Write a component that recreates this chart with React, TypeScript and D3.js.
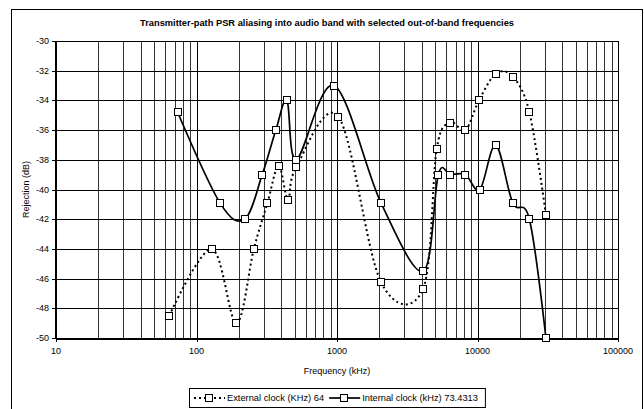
import React, { useEffect, useRef } from 'react';
import * as d3 from 'd3';

const width = 644;
const height = 409;

// plot area edges, in px
const plot = { left: 56, right: 618, top: 41, bottom: 338 };

const title = 'Transmitter-path PSR aliasing into audio band with selected out-of-band frequencies';
const xTitle = 'Frequency (kHz)';
const yTitle = 'Rejection (dB)';

const xTicks = [10, 100, 1000, 10000, 100000];
const yTicks = [-30, -32, -34, -36, -38, -40, -42, -44, -46, -48, -50];

const extName = 'External clock (KHz) 64';
const extFreq = [64, 128, 192, 256, 320, 384, 448, 512, 1024, 2048, 4096, 5120, 6400, 8192, 10240, 13500, 17800, 23400, 30700];
const extVal = [-48.5, -44, -49, -44, -40.9, -38.4, -40.7, -38.5, -35.1, -46.2, -46.7, -37.3, -35.5, -36, -34, -32.2, -32.4, -34.8, -41.7];

const intName = 'Internal clock (kHz) 73.4313';
const intFreq = [73.4, 146.9, 220.3, 293.7, 367.2, 440.6, 514, 955, 2056, 4112, 5260, 6400, 8200, 10400, 13500, 17800, 23400, 30700];
const intVal = [-34.8, -40.9, -42, -39, -36, -34, -38, -33, -40.9, -45.5, -39, -39, -39, -40, -37, -40.9, -42, -50];

const font = 'Liberation Sans, Arial, sans-serif';

type Pt = [number, number];

export default function App(): JSX.Element {
  const container = useRef<SVGSVGElement>(null);

  useEffect(() => {
    const svg = d3.select(container.current);
    svg.selectAll('*').remove();

    svg.append('rect').attr('width', width).attr('height', height).attr('fill', '#fff');
    // outer chart frame (bottom runs off the picture)
    svg
      .append('rect')
      .attr('x', 11.5)
      .attr('y', 9.5)
      .attr('width', 631)
      .attr('height', 420)
      .attr('fill', 'none')
      .attr('stroke', '#000');

    const x = d3.scaleLog().domain([10, 100000]).range([plot.left, plot.right]);
    const y = d3.scaleLinear().domain([-50, -30]).range([plot.bottom, plot.top]);

    const grid = svg.append('g').attr('shape-rendering', 'crispEdges');
    // vertical grid, decades + 2..9
    const vLines: number[] = [];
    for (let d = 10; d < 100000; d *= 10) {
      for (let k = 1; k < 10; k++) vLines.push(d * k);
    }
    vLines.push(100000);
    grid
      .selectAll('line.v')
      .data(vLines)
      .enter()
      .append('line')
      .attr('x1', (d) => Math.round(x(d)) + 0.5)
      .attr('x2', (d) => Math.round(x(d)) + 0.5)
      .attr('y1', plot.top)
      .attr('y2', plot.bottom)
      .attr('stroke', (d) => (xTicks.includes(d) ? '#000' : '#333'))
      .attr('stroke-width', 1);
    grid
      .selectAll('line.h')
      .data(yTicks)
      .enter()
      .append('line')
      .attr('x1', plot.left)
      .attr('x2', plot.right)
      .attr('y1', (d) => Math.round(y(d)) + 0.5)
      .attr('y2', (d) => Math.round(y(d)) + 0.5)
      .attr('stroke', '#000');

    // axes
    grid
      .append('line')
      .attr('x1', plot.left)
      .attr('x2', plot.left)
      .attr('y1', plot.top)
      .attr('y2', plot.bottom + 1)
      .attr('stroke', '#000')
      .attr('stroke-width', 2);
    grid
      .append('line')
      .attr('x1', plot.left)
      .attr('x2', plot.right + 1)
      .attr('y1', plot.bottom + 0.5)
      .attr('y2', plot.bottom + 0.5)
      .attr('stroke', '#000')
      .attr('stroke-width', 2);
    grid
      .selectAll('line.yt')
      .data(yTicks)
      .enter()
      .append('line')
      .attr('x1', plot.left - 4)
      .attr('x2', plot.left)
      .attr('y1', (d) => Math.round(y(d)) + 0.5)
      .attr('y2', (d) => Math.round(y(d)) + 0.5)
      .attr('stroke', '#000');
    grid
      .selectAll('line.xt')
      .data(xTicks)
      .enter()
      .append('line')
      .attr('x1', (d) => Math.round(x(d)) + 0.5)
      .attr('x2', (d) => Math.round(x(d)) + 0.5)
      .attr('y1', plot.bottom)
      .attr('y2', plot.bottom + 4)
      .attr('stroke', '#000');

    // tick labels
    svg
      .selectAll('text.yl')
      .data(yTicks)
      .enter()
      .append('text')
      .attr('x', plot.left - 7)
      .attr('y', (d) => y(d) + 3)
      .attr('text-anchor', 'end')
      .attr('font-family', font)
      .attr('font-size', 9)
      .text((d) => d);
    svg
      .selectAll('text.xl')
      .data(xTicks)
      .enter()
      .append('text')
      .attr('x', (d) => x(d))
      .attr('y', 354)
      .attr('text-anchor', 'middle')
      .attr('font-family', font)
      .attr('font-size', 9)
      .text((d) => d);

    const cx = (plot.left + plot.right) / 2;
    svg
      .append('text')
      .attr('x', cx - 10)
      .attr('y', 26)
      .attr('text-anchor', 'middle')
      .attr('font-family', font)
      .attr('font-size', 9.3)
      .attr('font-weight', 'bold')
      .text(title);
    svg
      .append('text')
      .attr('x', cx)
      .attr('y', 374)
      .attr('text-anchor', 'middle')
      .attr('font-family', font)
      .attr('font-size', 9)
      .text(xTitle);
    svg
      .append('text')
      .attr('transform', `translate(29,${(plot.top + plot.bottom) / 2}) rotate(-90)`)
      .attr('text-anchor', 'middle')
      .attr('font-family', font)
      .attr('font-size', 9)
      .text(yTitle);

    // series, smoothed like the spreadsheet lines
    const line = d3
      .line<Pt>()
      .x((d) => x(d[0]))
      .y((d) => y(d[1]))
      .curve(d3.curveCardinal.tension(0));

    const series = [
      { name: extName, pts: extFreq.map((f, i): Pt => [f, extVal[i]]), dash: '2,3', w: 2 },
      { name: intName, pts: intFreq.map((f, i): Pt => [f, intVal[i]]), dash: null, w: 1.7 },
    ];

    const drawMarker = (g: d3.Selection<SVGGElement, unknown, null, undefined>, px: number, py: number) => {
      g.append('rect')
        .attr('x', Math.round(px) - 3.5)
        .attr('y', Math.round(py) - 3.5)
        .attr('width', 7)
        .attr('height', 7)
        .attr('fill', '#fff')
        .attr('stroke', '#000')
        .attr('stroke-width', 1);
    };

    series.forEach((s) => {
      const g = svg.append('g');
      g.append('path')
        .attr('d', line(s.pts) || '')
        .attr('fill', 'none')
        .attr('stroke', '#000')
        .attr('stroke-width', s.w)
        .attr('stroke-dasharray', s.dash);
      s.pts.forEach((p) => drawMarker(g, x(p[0]), y(p[1])));
    });

    // legend, laid out from measured text
    const leg = svg.append('g');
    const box = leg
      .append('rect')
      .attr('y', 388.5)
      .attr('height', 19)
      .attr('fill', '#fff')
      .attr('stroke', '#000');
    let pos = 5;
    const ly = 398;
    series.forEach((s) => {
      leg
        .append('line')
        .attr('x1', pos)
        .attr('x2', pos + 31)
        .attr('y1', ly)
        .attr('y2', ly)
        .attr('stroke', '#000')
        .attr('stroke-width', s.w)
        .attr('stroke-dasharray', s.dash);
      drawMarker(leg, pos + 15, ly);
      pos += 33;
      const t = leg
        .append('text')
        .attr('x', pos)
        .attr('y', ly + 3)
        .attr('font-family', font)
        .attr('font-size', 9.3)
        .text(s.name);
      pos += (t.node() as SVGTextElement).getComputedTextLength() + 5;
    });
    const boxW = pos + 2;
    box.attr('x', 0.5).attr('width', boxW);
    leg.attr('transform', `translate(${Math.round(cx - boxW / 2)},0)`);
  }, []);

  return (
    <svg
      ref={container}
      width={width}
      height={height}
      style={{ position: 'absolute', left: 0, top: 0, display: 'block' }}
    />
  );
}
